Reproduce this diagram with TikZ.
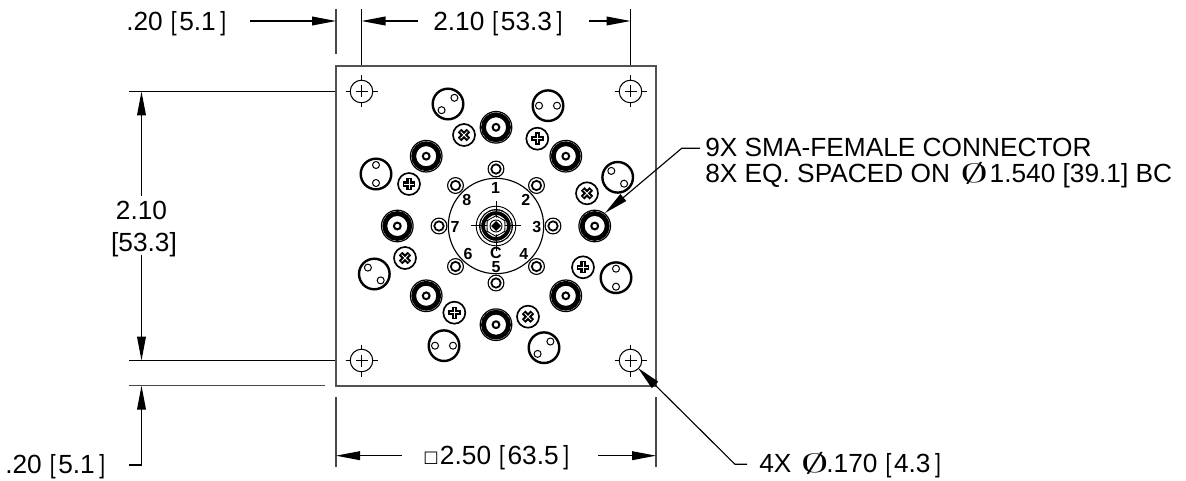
\documentclass[tikz,border=0pt]{standalone}
\usepackage{fontspec}
\setmainfont{Liberation Sans}
\newfontfamily\symfont{DejaVu Sans}
\usetikzlibrary{arrows.meta}
\newcommand{\lbk}{\kern6pt\scalebox{0.8}[1]{[}\kern2pt}
\newcommand{\rbk}{\kern3.5pt\scalebox{0.8}[1]{]}}
\newcommand{\phisym}{\scalebox{2.05}[0.95]{$\emptyset$}}
\tikzset{
  x=0.75pt,y=-0.75pt,
  thinline/.style={line width=0.75pt,black},
  plateline/.style={line width=1.1pt,black!68},
  extline/.style={line width=0.9pt,black!72},
  dimarrow/.style={line width=0.85pt,black,-{Triangle[length=18pt,width=6.6pt]}},
  dimtext/.style={font=\fontsize{19.7}{22}\selectfont,inner sep=0pt,anchor=base west},
  numtext/.style={font=\fontsize{12}{13}\selectfont\bfseries,inner sep=0pt,anchor=center},
  ring/.style={line width=#1,black,fill=none},
}
\begin{document}
\begin{tikzpicture}
\useasboundingbox (0,0) rectangle (1186,481);
% plate
\draw[plateline] (336,66) rectangle (656,386);
% mounting holes
\foreach \hx/\hy in {361.5/91.5,630.5/91.5,361.5/360.5,630.5/360.5}{
  \begin{scope}[shift={(\hx,\hy)}]
    \draw[thinline] (0,0) circle (11.3);
    \draw[thinline] (-6,0)--(6,0) (0,-6)--(0,6);
    \draw[thinline] (-16,0)--(-11,0) (11,0)--(16,0) (0,-16)--(0,-11) (0,11)--(0,16);
  \end{scope}
}
\begin{scope}[shift={(496,226)}]
  % BC circle
  \draw[line width=0.85pt] (0,0) circle (47.7);
  % SMA connectors
  \foreach \dx/\dy in {0/-98.7,69.8/-69.8,98.7/0,69.8/69.8,0/98.7,-69.8/69.8,-98.7/0,-69.8/-69.8}{
    \begin{scope}[shift={(\dx,\dy)}]
      \draw[ring=0.9pt] (0,0) circle (15.8);
      \draw[ring=3.6pt] (0,0) circle (12.5);
      \draw[ring=1.5pt] (0,0) circle (3.4);
    \end{scope}
  }
  % large two-hole circles
  \foreach \dx/\dy/\px/\py in {-48/-122/6.4/-6.2,-120/-52/0/9,52/-120.3/9/0,121.7/-48.7/6.4/6.4,120/51.7/0/9,48/121.7/6.4/-6.2,-121.7/48/6.4/6.4,-52/119.7/9/0}{
    \begin{scope}[shift={(\dx,\dy)}]
      \draw[ring=1.8pt] (0,0) circle (15.3);
      \draw[ring=0.75pt] (\px,\py) circle (3.5);
      \draw[ring=0.75pt] ({-\px},{-\py}) circle (3.5);
    \end{scope}
  }
  % screws
  \foreach \dx/\dy/\rot in {-32/-91/45,-87/-42/0,41.3/-87.3/0,91/-32.7/45,87/41.3/0,32/90.7/45,-91/32/45,-41.7/86.7/0}{
    \begin{scope}[shift={(\dx,\dy)},rotate=\rot]
      \draw[ring=1.25pt] (0,0) circle (11);
      \draw[line width=3.9pt,black] (-6.2,0)--(6.2,0) (0,-6.2)--(0,6.2);
      \draw[line width=0.7pt,white] (-4.8,0)--(4.8,0) (0,-4.8)--(0,4.8);
    \end{scope}
  }
  % ports
  \foreach \dx/\dy in {0/-57,40.5/-40.5,57/0,40.5/40.5,0/57,-40.5/40.5,-57/0,-40.5/-40.5}{
    \begin{scope}[shift={(\dx,\dy)}]
      \draw[ring=0.85pt,fill=white] (0,0) circle (7.9);
      \draw[ring=1.3pt] (0,0) circle (4.7);
    \end{scope}
  }
  % centre connector
  \draw[ring=0.7pt] (0,0) circle (19.8);
  \draw[ring=4.4pt] (0,0) circle (14);
  \draw[white,line width=0.5pt] (0,0) circle (15.2);
  \draw[line width=0.7pt] (30:10.3)--(90:10.3)--(150:10.3)--(210:10.3)--(270:10.3)--(330:10.3)--cycle;
  \draw[thinline] (-25,0)--(25,0) (0,-25)--(0,25);
  \fill[white] (0,0) circle (8.5);
  \draw[line width=0.7pt] (0,0) circle (6);
  \fill[black] (-5,0)--(0,-5)--(5,0)--(0,5)--cycle;
\end{scope}
% port numbers
\node[numtext] (n1) at (495.5,187.5) {1};
\node[numtext] (n2) at (525.7,199.5) {2};
\node[numtext] (n3) at (536.7,227) {3};
\node[numtext] (n4) at (523.7,254) {4};
\node[numtext] (n5) at (496,267) {5};
\node[numtext] (nc) at (496,252.5) {C};
\node[numtext] (n6) at (468,254) {6};
\node[numtext] (n7) at (455,227) {7};
\node[numtext] (n8) at (466.7,199.5) {8};
% top dimensions
\draw[extline] (336,9)--(336,54);
\draw[thinline] (361.5,9)--(361.5,65);
\draw[thinline] (630.5,9)--(630.5,65);
\coordinate (tl) at (336,21);
\coordinate (tm) at (361.5,21);
\coordinate (tr) at (630.5,21);
\node[dimtext] (d1) at (126,31) {.20\lbk 5.1\rbk};
\node[dimtext] (d2) at (433,31) {2.10\lbk 53.3\rbk};
\draw[dimarrow] (250,21)--(tl);
\draw[dimarrow] (418,21)--(tm);
\draw[dimarrow] (589,21)--(tr);
% left dimensions
\draw[thinline] (129,91.5)--(335,91.5);
\draw[thinline] (129,360.5)--(335,360.5);
\draw[extline] (129,385.7)--(325,385.7);
\coordinate (lt) at (141.5,91.5);
\coordinate (lb) at (141.5,360.5);
\coordinate (lc) at (141.5,385.7);
\draw[dimarrow] (141.5,196)--(lt);
\draw[dimarrow] (141.5,255)--(lb);
\node[dimtext,anchor=base] (d3) at (141.5,220) {2.10};
\node[dimtext,anchor=base] (d4) at (144,251.7) {[53.3]};
\draw[dimarrow] (129,465)--(141.5,465)--(lc);
\node[dimtext] (d5) at (5,473) {.20\lbk 5.1\rbk};
% bottom dimension
\draw[extline] (336,397)--(336,467);
\draw[extline] (656,397)--(656,467);
\coordinate (bl) at (336,455.7);
\coordinate (br) at (656,455.7);
\draw[dimarrow] (402,455.7)--(bl);
\draw[dimarrow] (598,455.7)--(br);
\node[dimtext] (d6) at (423,464) {\raisebox{0.8pt}{\scalebox{0.62}{\symfont □}}\kern1pt 2.50\lbk 63.5\rbk};
% leaders
\coordinate (h4) at (638,368);
\draw[dimarrow] (747,464.3)--(735,464.3)--(h4);
\node[dimtext] (d7) at (759,472.7) {4X\kern7pt\phisym\kern-2pt.170\lbk 4.3\rbk};
\coordinate (sma) at (605,213);
\draw[dimarrow] (700,148.3)--(681.7,148.3)--(sma);
\node[dimtext] (d8) at (705,157) {9X SMA-FEMALE CONNECTOR};
\node[dimtext] (d9) at (705,182.3) {8X EQ. SPACED ON\kern7.5pt\phisym\kern1pt 1.540 [39.1] BC};
\end{tikzpicture}
\end{document}
